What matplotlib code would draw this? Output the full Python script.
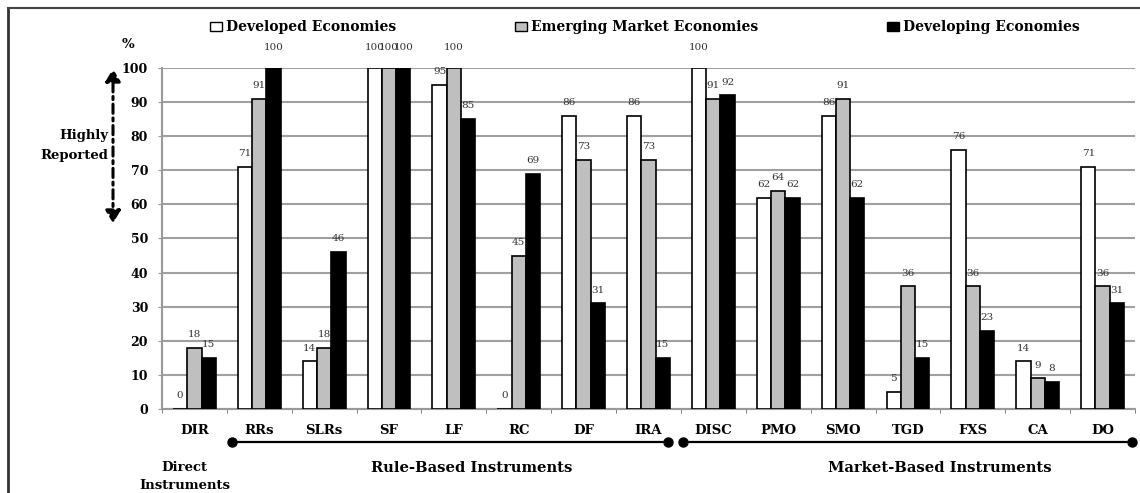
import matplotlib
matplotlib.use("Agg")
import matplotlib.pyplot as plt
import matplotlib.transforms as mtransforms
from matplotlib.patches import Rectangle
import numpy as np

categories = ["DIR", "RRs", "SLRs", "SF", "LF", "RC", "DF", "IRA",
              "DISC", "PMO", "SMO", "TGD", "FXS", "CA", "DO"]
developed = [0, 71, 14, 100, 95, 0, 86, 86, 100, 62, 86, 5, 76, 14, 71]
emerging = [18, 91, 18, 100, 100, 45, 73, 73, 91, 64, 91, 36, 36, 9, 36]
developing = [15, 100, 46, 100, 85, 69, 31, 15, 92, 62, 62, 15, 23, 8, 31]
series_names = ["Developed Economies", "Emerging Market Economies", "Developing Economies"]
series_colors = ["white", "#bfbfbf", "black"]
yticks = [0, 10, 20, 30, 40, 50, 60, 70, 80, 90, 100]

SERIF = ["DejaVu Serif", "Liberation Serif"]
plt.rcParams["font.family"] = SERIF

fig = plt.figure(figsize=(11.4, 4.93), dpi=100)
ax = fig.add_axes([0.1421, 0.1704, 0.8535, 0.6917])

x = np.arange(len(categories))
w = 0.22
offsets = [-w, 0, w]
for vals, off, col in zip([developed, emerging, developing], offsets, series_colors):
    ax.bar(x + off, vals, width=w, color=col, edgecolor="black", linewidth=1.2, zorder=3)
    for xi, v in zip(x, vals):
        dy = 15 if v >= 100 else 9.5
        ax.annotate(str(v), (xi + off, v), xytext=(0, dy), textcoords="offset points",
                    ha="center", va="center", fontsize=7.5, color="#333333",
                    annotation_clip=False, zorder=4)

ax.set_xlim(-0.5, len(categories) - 0.5)
ax.set_ylim(0, 100)
ax.set_yticks(yticks)
ax.set_yticklabels([str(t) for t in yticks], fontsize=9, fontweight="bold")
ax.set_xticks(x)
ax.set_xticklabels(categories, fontsize=9.5, fontweight="bold")
ax.tick_params(axis="x", length=0, pad=11)
ax.tick_params(axis="y", length=3, color="#999999", pad=7)
ax.set_xticks(np.arange(-0.5, len(categories) + 0.5, 1), minor=True)
ax.tick_params(axis="x", which="minor", length=3, color="#666666", direction="out")
ax.grid(axis="y", color="#a0a0a0", linewidth=1.5, zorder=0)
for s in ["top", "right"]:
    ax.spines[s].set_visible(False)
ax.spines["left"].set_color("#999999")
ax.spines["left"].set_linewidth(1.5)
ax.spines["bottom"].set_color("#999999")
ax.spines["bottom"].set_linewidth(1.5)

# group brackets
trans = mtransforms.blended_transform_factory(ax.transData, ax.transAxes)
ybr = -0.097
for x0, x1 in [(0.58, 7.3), (7.53, 14.46)]:
    ax.plot([x0, x1], [ybr, ybr], color="black", linewidth=1.6, transform=trans, clip_on=False)
    ax.plot([x0, x1], [ybr, ybr], "o", color="black", markersize=6.5, transform=trans, clip_on=False)

ylab = -0.172
ax.text(-0.15, ylab, "Direct", transform=trans, ha="center", va="center", fontsize=9.5, fontweight="bold")
ax.text(-0.15, ylab - 0.053, "Instruments", transform=trans, ha="center", va="center", fontsize=9.5, fontweight="bold")
ax.text(4.28, ylab, "Rule-Based Instruments", transform=trans, ha="center", va="center", fontsize=10.6, fontweight="bold")
ax.text(11.49, ylab, "Market-Based Instruments", transform=trans, ha="center", va="center", fontsize=10.6, fontweight="bold")

# legend (manual)
W, H = 1140, 493
def fx(px):
    return px / W
def fy(py):
    return 1 - py / H
for name, col, px in zip(series_names, series_colors, [210, 515, 887]):
    fig.patches.append(Rectangle((fx(px), fy(31)), 12 / W, 9 / H, transform=fig.transFigure,
                                 facecolor=col, edgecolor="black", linewidth=1.0))
    fig.text(fx(px + 16), fy(27), name, ha="left", va="center", fontsize=10, fontweight="bold")

fig.text(fx(128), fy(45), "%", ha="center", va="center", fontsize=9.5, fontweight="bold")
fig.text(fx(108), fy(135), "Highly", ha="right", va="center", fontsize=9.5, fontweight="bold")
fig.text(fx(108), fy(155), "Reported", ha="right", va="center", fontsize=9.5, fontweight="bold")

fig.add_artist(matplotlib.patches.FancyArrowPatch(
    (fx(113), fy(226)), (fx(113), fy(66)), transform=fig.transFigure,
    arrowstyle="<|-|>,head_length=5,head_width=3", linestyle=(0, (3, 1.5, 1, 1.5)),
    linewidth=2.2, color="black", mutation_scale=1.5))

# frame
fig.add_artist(plt.Line2D([fx(8), fx(8)], [0, fy(8)], color="#333333", linewidth=2, transform=fig.transFigure))
fig.add_artist(plt.Line2D([fx(8), 1], [fy(8), fy(8)], color="#444444", linewidth=1.5, transform=fig.transFigure))

fig.savefig("out.png", dpi=100)
